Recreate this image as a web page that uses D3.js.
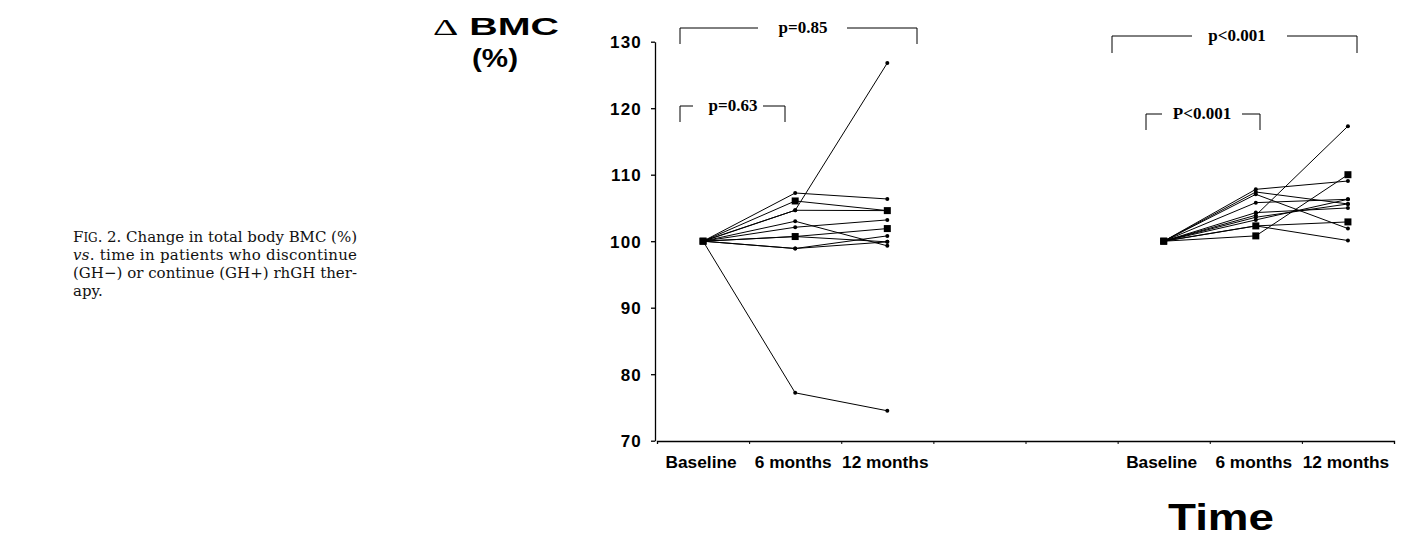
<!DOCTYPE html>
<html lang="en">
<head>
    <meta charset="UTF-8">
    <script src="https://d3js.org/d3.v7.min.js"></script>
    <style>
        body {margin: 0; background-color: #ffffff}
        svg {display: block}
    </style>
</head>
<body>
<svg class="chart"></svg>
<script type="text/javascript">
    // tick labels and categories
    const yTicks = [70, 80, 90, 100, 110, 120, 130];
    const timeLabels = ['Baseline', '6 months', '12 months'];
    const baselineValue = 100;

    // GH- patients (discontinued): 6 and 12 month values
    const ghMinus6  = [107.25, 106.05, 104.65, 104.65, 103.0, 102.1, 100.7, 100.7, 98.9, 98.9, 77.2];
    const ghMinus12 = [106.35, 104.6, 126.8, 104.6, 99.3, 103.2, 101.9, 99.9, 100.8, 99.9, 74.5];
    const ghMinusSquare = [false, true, false, false, false, false, true, false, false, false, false];

    // GH+ patients (continued)
    const ghPlus6  = [107.8, 107.4, 107.05, 105.8, 104.3, 103.9, 103.6, 103.2, 102.3, 100.8, 102.3];
    const ghPlus12 = [109.05, 105.6, 101.9, 106.3, 105.0, 117.3, 105.6, 106.3, 100.1, 110.0, 102.9];
    const ghPlusSquare = [false, false, false, false, false, false, false, false, false, true, true];

    // p value labels
    const pLabels = ['p=0.85', 'p=0.63', 'p<0.001', 'P<0.001'];

    const width = 1410, height = 538;
    const svg = d3.select('.chart').attr('width', width).attr('height', height);

    // 8 slots along the x axis, GH- uses slots 0-2, GH+ uses 5-7
    const x = d3.scaleLinear().domain([0, 8]).range([657, 1394]);
    const y = d3.scaleLinear().domain([70, 130]).range([440.7, 41.7]);
    const groupStart = [0, 5];

    function px(group, t) { return x(groupStart[group] + t + 0.5); }

    const sans = 'Liberation Sans, Arial, sans-serif';

    // y axis
    const yAxis = svg.append('g').attr('transform', 'translate(655,0)')
        .call(d3.axisLeft(y).tickValues(yTicks).tickSize(4).tickSizeOuter(0));
    yAxis.select('.domain').attr('stroke', '#000').attr('stroke-width', 1.3);
    yAxis.selectAll('line').attr('stroke', '#000').attr('stroke-width', 1.3);
    yAxis.selectAll('text').attr('x', -13).attr('dy', '0.36em')
        .style('font-family', sans)
        .style('font-weight', 'bold').style('font-size', '17px')
        .style('letter-spacing', '1.2px').attr('fill', '#000');

    // x axis line with 8 slots
    const xAxis = svg.append('g').attr('transform', 'translate(0,441)')
        .call(d3.axisBottom(x).tickValues(d3.range(0, 9)).tickSize(3).tickFormat(''));
    xAxis.select('.domain').attr('stroke', '#000').attr('stroke-width', 1.3);
    xAxis.selectAll('line').attr('stroke', '#000');

    [0, 1].forEach(g => {
        timeLabels.forEach((lab, i) => {
            svg.append('text')
                .attr('x', px(g, i) - 2).attr('y', 468)
                .attr('text-anchor', 'middle')
                .style('font-family', sans)
                .style('font-weight', 'bold').style('font-size', '17.3px')
                .text(lab);
        });
    });

    // axis titles
    const yt = svg.append('text').attr('x', 496).attr('y', 35).attr('text-anchor', 'middle')
        .attr('textLength', 126).attr('lengthAdjust', 'spacingAndGlyphs')
        .style('font-family', sans)
        .style('font-weight', 'bold').style('font-size', '24px');
    yt.append('tspan').style('font-family', 'Liberation Serif, serif').style('font-weight', 'normal')
        .text('\u0394');
    yt.append('tspan').text(' BMC');
    svg.append('text').attr('x', 495).attr('y', 67).attr('text-anchor', 'middle')
        .attr('textLength', 46).attr('lengthAdjust', 'spacingAndGlyphs')
        .style('font-family', sans)
        .style('font-weight', 'bold').style('font-size', '25px')
        .text('(%)');
    svg.append('text').attr('x', 1221).attr('y', 530).attr('text-anchor', 'middle')
        .attr('textLength', 106).attr('lengthAdjust', 'spacingAndGlyphs')
        .style('font-family', sans)
        .style('font-weight', 'bold').style('font-size', '37px')
        .text('Time');

    // patient lines
    function drawGroup(g, v6, v12, sq) {
        v6.forEach((d, i) => {
            const pts = [[px(g, 0), y(baselineValue)], [px(g, 1), y(d)], [px(g, 2), y(v12[i])]];
            svg.append('path').datum(pts)
                .attr('d', d3.line())
                .attr('fill', 'none').attr('stroke', '#000').attr('stroke-width', 1);
            pts.forEach(p => {
                if (sq[i]) {
                    svg.append('rect').attr('x', p[0] - 3.5).attr('y', p[1] - 3.5)
                        .attr('width', 7).attr('height', 7).attr('fill', '#000');
                } else {
                    svg.append('circle').attr('cx', p[0]).attr('cy', p[1]).attr('r', 2).attr('fill', '#000');
                }
            });
        });
    }
    drawGroup(0, ghMinus6, ghMinus12, ghMinusSquare);
    drawGroup(1, ghPlus6, ghPlus12, ghPlusSquare);

    // significance brackets
    function bracket(x1, x2, yTop, yBot, gap1, gap2, label, cx) {
        const path = d3.path();
        path.moveTo(x1, yBot); path.lineTo(x1, yTop); path.lineTo(gap1, yTop);
        path.moveTo(gap2, yTop); path.lineTo(x2, yTop); path.lineTo(x2, yBot);
        svg.append('path').attr('d', path.toString())
            .attr('fill', 'none').attr('stroke', '#000').attr('stroke-width', 1);
        svg.append('text').attr('x', cx).attr('y', yTop + 5).attr('text-anchor', 'middle')
            .style('font-family', 'Liberation Serif, Times New Roman, serif')
            .style('font-weight', 'bold').style('font-size', '17px')
            .text(label);
    }
    bracket(680, 917, 28, 44, 758, 847, pLabels[0], 803);
    bracket(680, 785, 106, 122, 693, 763, pLabels[1], 733);
    bracket(1112, 1357, 36, 53, 1192, 1287, pLabels[2], 1237);
    bracket(1146, 1260, 114, 130, 1162, 1242, pLabels[3], 1202);

    // figure caption
    const cap = svg.append('g')
        .style('font-family', 'DejaVu Serif, serif').style('font-size', '15px').attr('fill', '#111');
    const l1 = cap.append('text').attr('x', 73).attr('y', 242).attr('textLength', 284);
    l1.append('tspan').text('F');
    l1.append('tspan').style('font-size', '12px').text('IG');
    l1.append('tspan').text('. 2. Change in total body BMC (%)');
    const l2 = cap.append('text').attr('x', 73).attr('y', 260).attr('textLength', 284);
    l2.append('tspan').style('font-style', 'italic').text('vs');
    l2.append('tspan').text('. time in patients who discontinue');
    cap.append('text').attr('x', 73).attr('y', 278).attr('textLength', 284)
        .text('(GH\u2212) or continue (GH+) rhGH ther-');
    cap.append('text').attr('x', 73).attr('y', 296).text('apy.');
</script>
</body>
</html>
